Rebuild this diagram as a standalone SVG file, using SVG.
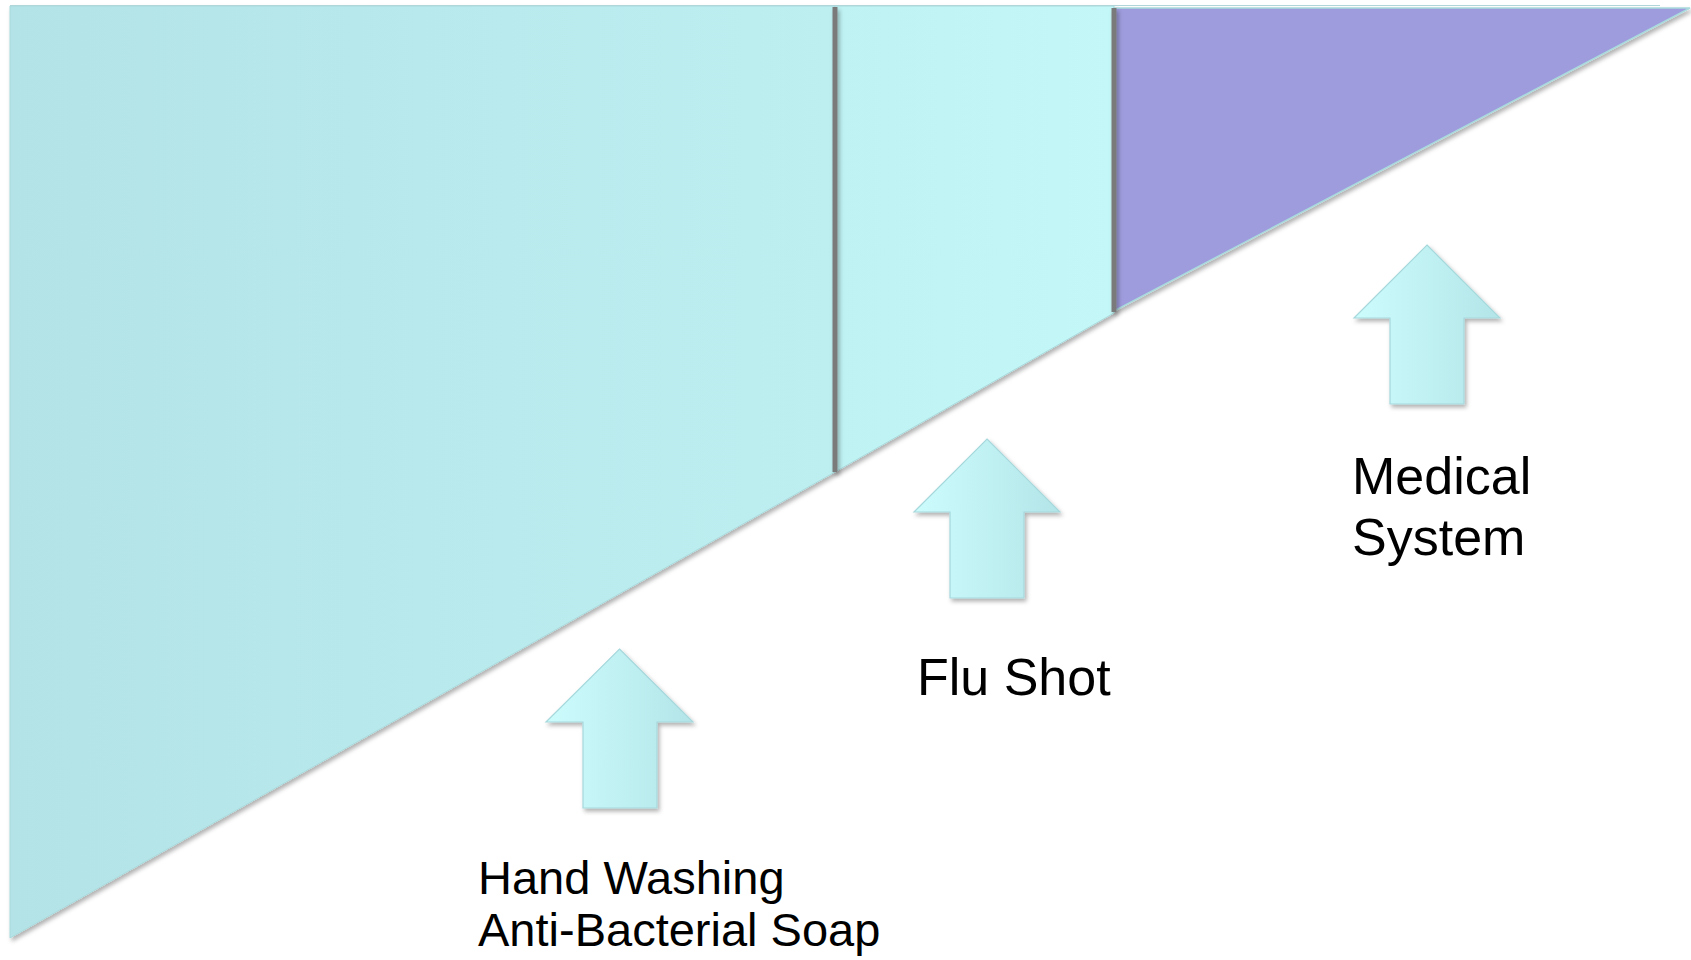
<svg xmlns="http://www.w3.org/2000/svg" width="1691" height="960" viewBox="0 0 1691 960">
<defs>
<style>
.lbl{font-family:"Liberation Sans",Arial,Helvetica,sans-serif;fill:#000}
.div{stroke:#7a7a7a;stroke-width:5;fill:none}
.arrow{fill:url(#gArrow);stroke:#a6d8dc;stroke-width:1.2}
</style>
<linearGradient id="gLeft" x1="0" y1="0" x2="1" y2="0">
<stop offset="0" stop-color="#b3e3e7"/>
<stop offset="1" stop-color="#bdeff1"/>
</linearGradient>
<linearGradient id="gMid" x1="0" y1="0" x2="1" y2="0">
<stop offset="0" stop-color="#bff2f3"/>
<stop offset="1" stop-color="#c4f7f7"/>
</linearGradient>
<linearGradient id="gArrow" x1="0" y1="0" x2="1" y2="0">
<stop offset="0" stop-color="#cdfcfd"/>
<stop offset="1" stop-color="#b3e5e8"/>
</linearGradient>
<filter id="sh" x="-5%" y="-5%" width="110%" height="110%">
<feDropShadow dx="2" dy="3" stdDeviation="2" flood-color="#000" flood-opacity="0.3"/>
</filter>
</defs>
<rect width="1691" height="960" fill="#fff"/>
<g id="pyramid" filter="url(#sh)">
<g id="section-hand-washing">
<polygon points="10,6 835,6 835,472 10,938" fill="url(#gLeft)" stroke="#a9dadd" stroke-width="1"/>
</g>
<g id="section-flu-shot">
<polygon points="835,6 1114,6 1114,313 835,472" fill="url(#gMid)" stroke="#a9dadd" stroke-width="1"/>
</g>
<g id="section-medical">
<polygon points="1114,8 1690,8 1114,311" fill="#9e9cdc" stroke="#a9dadd" stroke-width="1.5"/>
</g>
</g>
<line x1="10" y1="5.5" x2="1660" y2="5.5" stroke="#b0d6d9" stroke-width="1.2"/>
<g id="dividers" filter="url(#sh)">
<line class="div" x1="835" y1="7" x2="835" y2="472"/>
<line class="div" x1="1114" y1="8" x2="1114" y2="312"/>
</g>
<g id="connectors"></g>
<g id="node-hand-washing">
<polygon class="arrow" filter="url(#sh)" points="619.5,649 693,722 657,722 657,808 583,808 583,722 546,722"/>
<text class="lbl" font-size="47" x="478" y="894">Hand Washing</text>
<text class="lbl" font-size="47" x="478" y="946">Anti-Bacterial Soap</text>
</g>
<g id="node-flu-shot">
<polygon class="arrow" filter="url(#sh)" points="987,439 1060,512 1024,512 1024,598 950,598 950,512 914,512"/>
<text class="lbl" font-size="52" x="917" y="695">Flu Shot</text>
</g>
<g id="node-medical-system">
<polygon class="arrow" filter="url(#sh)" points="1427,245 1500,318 1464,318 1464,404 1390,404 1390,318 1354,318"/>
<text class="lbl" font-size="52" x="1352" y="494">Medical</text>
<text class="lbl" font-size="52" x="1352" y="555">System</text>
</g>
</svg>
